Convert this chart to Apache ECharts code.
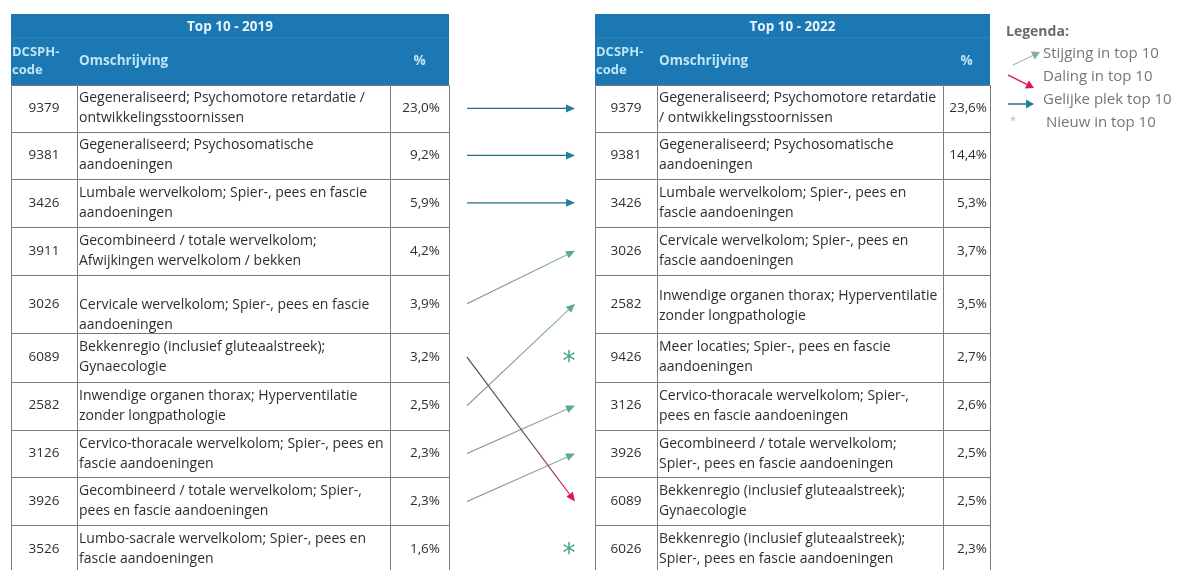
<!DOCTYPE html>
<html><head><meta charset="utf-8">
<script src="https://cdn.jsdelivr.net/npm/echarts@6/dist/echarts.min.js"></script>
<style>html,body{margin:0;padding:0;background:#fff}#c{width:1179px;height:570px}</style>
</head><body><div id="c"></div>
<script>
// ---------------- DATA ----------------
const titles = ['Top 10 - 2019', 'Top 10 - 2022'];
const headerLabels = ['DCSPH-\ncode', 'Omschrijving', '%'];
const codes2019 = ['9379', '9381', '3426', '3911', '3026', '6089', '2582', '3126', '3926', '3526'];
const desc2019 = [
  'Gegeneraliseerd; Psychomotore retardatie /\nontwikkelingsstoornissen',
  'Gegeneraliseerd; Psychosomatische\naandoeningen',
  'Lumbale wervelkolom; Spier-, pees en fascie\naandoeningen',
  'Gecombineerd / totale wervelkolom;\nAfwijkingen wervelkolom / bekken',
  'Cervicale wervelkolom; Spier-, pees en fascie\naandoeningen',
  'Bekkenregio (inclusief gluteaalstreek);\nGynaecologie',
  'Inwendige organen thorax; Hyperventilatie\nzonder longpathologie',
  'Cervico-thoracale wervelkolom; Spier-, pees en\nfascie aandoeningen',
  'Gecombineerd / totale wervelkolom; Spier-,\npees en fascie aandoeningen',
  'Lumbo-sacrale wervelkolom; Spier-, pees en\nfascie aandoeningen'
];
const pct2019 = [23.0, 9.2, 5.9, 4.2, 3.9, 3.2, 2.5, 2.3, 2.3, 1.6];
const codes2022 = ['9379', '9381', '3426', '3026', '2582', '9426', '3126', '3926', '6089', '6026'];
const desc2022 = [
  'Gegeneraliseerd; Psychomotore retardatie\n/ ontwikkelingsstoornissen',
  'Gegeneraliseerd; Psychosomatische\naandoeningen',
  'Lumbale wervelkolom; Spier-, pees en\nfascie aandoeningen',
  'Cervicale wervelkolom; Spier-, pees en\nfascie aandoeningen',
  'Inwendige organen thorax; Hyperventilatie\nzonder longpathologie',
  'Meer locaties; Spier-, pees en fascie\naandoeningen',
  'Cervico-thoracale wervelkolom; Spier-,\npees en fascie aandoeningen',
  'Gecombineerd / totale wervelkolom;\nSpier-, pees en fascie aandoeningen',
  'Bekkenregio (inclusief gluteaalstreek);\nGynaecologie',
  'Bekkenregio (inclusief gluteaalstreek);\nSpier-, pees en fascie aandoeningen'
];
const pct2022 = [23.6, 14.4, 5.3, 3.7, 3.5, 2.7, 2.6, 2.5, 2.5, 2.3];
const legendTitle = 'Legenda:';
const legendLabels = ['Stijging in top 10', 'Daling in top 10', 'Gelijke plek top 10', 'Nieuw in top 10'];

// ---------------- LAYOUT ----------------
const ROW_H = [0.98, 0.98, 1, 1, 1.21, 1.02, 1, 1, 1, 1];
const rowTop = [0];
ROW_H.forEach((h, i) => rowTop.push(rowTop[i] + h));
const rowMid = i => rowTop[i] + ROW_H[i] / 2;
const HEAD_TOP = -1.48, HEAD_MID = -0.98;
const TABLES = [
  { cols: [11, 77, 390, 449], pctPad: 9, descShift: { 4: 11 } },
  { cols: [595, 657, 943, 990], pctPad: 3, descShift: { 4: 2 } }
];
const ARROW_X = [467, 575];
const FONT = '"Open Sans", Lato, sans-serif';
const TXT = '#2e2e2e';
const BORDER = '#7a7a7a';
const BLUE = '#1b78b3';
const fmtPct = v => v.toFixed(1).replace('.', ',') + '%';

const tablesData = [
  { codes: codes2019, desc: desc2019, pct: pct2019 },
  { codes: codes2022, desc: desc2022, pct: pct2022 }
];

function bodyRender(t) {
  const T = TABLES[t], D = tablesData[t];
  return function (params, api) {
    const i = api.value(0);
    const y0 = api.coord([0, rowTop[i]])[1];
    const y1 = api.coord([0, rowTop[i + 1]])[1];
    const xs = T.cols.map(c => api.coord([c, 0])[0]);
    const ym = (y0 + y1) / 2;
    const children = [];
    for (let k = 0; k < 3; k++) {
      children.push({
        type: 'rect',
        shape: { x: Math.round(xs[k]) + 0.5, y: Math.round(y0) + 0.5, width: Math.round(xs[k + 1] - xs[k]), height: Math.round(y1 - y0) },
        style: { fill: '#ffffff', stroke: BORDER, lineWidth: 1 }
      });
    }
    children.push({ type: 'text', style: { text: D.codes[i], x: (xs[0] + xs[1]) / 2, y: ym, align: 'center', verticalAlign: 'middle', font: '13.5px ' + FONT, fill: TXT } });
    children.push({ type: 'text', style: { text: D.desc[i], x: xs[1] + 2, y: ym + (T.descShift[i] || 0), align: 'left', verticalAlign: 'middle', font: '14px ' + FONT, lineHeight: 20, fill: TXT } });
    children.push({ type: 'text', style: { text: fmtPct(D.pct[i]), x: xs[3] - T.pctPad, y: ym, align: 'right', verticalAlign: 'middle', font: '13.5px ' + FONT, fill: TXT } });
    return { type: 'group', children };
  };
}

function headerRender(t) {
  const T = TABLES[t];
  return function (params, api) {
    const yA = api.coord([0, HEAD_TOP])[1];
    const yB = api.coord([0, HEAD_MID])[1];
    const yC = api.coord([0, 0])[1];
    const xs = T.cols.map(c => api.coord([c, 0])[0]);
    const lab = '#bfe4f5';
    return {
      type: 'group', children: [
        { type: 'rect', shape: { x: xs[0], y: yA, width: xs[3] - xs[0], height: yC - yA }, style: { fill: BLUE } },
        { type: 'line', shape: { x1: xs[0], y1: yB, x2: xs[3], y2: yB }, style: { stroke: '#2a86bd', lineWidth: 1 } },
        { type: 'text', style: { text: titles[t], x: (xs[0] + xs[3]) / 2, y: (yA + yB) / 2 + 1, align: 'center', verticalAlign: 'middle', font: 'bold 13.5px ' + FONT, fill: '#e6f4fb' } },
        { type: 'text', style: { text: headerLabels[0], x: xs[0] + 1, y: (yB + yC) / 2, align: 'left', verticalAlign: 'middle', font: 'bold 13px ' + FONT, lineHeight: 18, fill: lab } },
        { type: 'text', style: { text: headerLabels[1], x: xs[1] + 2, y: (yB + yC) / 2, align: 'left', verticalAlign: 'middle', font: 'bold 13.5px ' + FONT, fill: lab } },
        { type: 'text', style: { text: headerLabels[2], x: (xs[2] + xs[3]) / 2, y: (yB + yC) / 2, align: 'center', verticalAlign: 'middle', font: 'bold 13.5px ' + FONT, fill: lab } }
      ]
    };
  };
}

// movement data derived from the two rankings
const moves = codes2022.map((c, i22) => {
  const i19 = codes2019.indexOf(c);
  let type = 'new';
  if (i19 >= 0) type = i19 === i22 ? 'same' : (i19 > i22 ? 'rise' : 'fall');
  return [i19, i22, type];
});

const STY = {
  same: { a: '#2c6b80', m: '#2c6b80', b: '#2c6b80', head: '#1a8594' },
  rise: { a: '#8a8a8a', m: '#8f9a96', b: '#86b9a4', head: '#5dab90' },
  fall: { a: '#4d4d4d', m: '#555555', b: '#d11a4c', head: '#e0154d' }
};
const LEGEND_STY = {
  same: STY.same,
  rise: { a: '#9a9a9a', m: '#9aa8a2', b: '#8cbba8', head: '#7fb09c' },
  fall: { a: '#d8365f', m: '#dc2a57', b: '#e0154d', head: '#e0154d' }
};

function arrowShape(p1, p2, s, L, W, lw) {
  const dx = p2[0] - p1[0], dy = p2[1] - p1[1];
  const len = Math.hypot(dx, dy), ux = dx / len, uy = dy / len;
  const bx = p2[0] - L * ux, by = p2[1] - L * uy;
  const grad = new echarts.graphic.LinearGradient(0, 0, 1, 0, [{ offset: 0, color: s.a }, { offset: 0.6, color: s.m }, { offset: 1, color: s.b }]);
  return [
    { type: 'line', shape: { x1: p1[0], y1: p1[1], x2: bx, y2: by }, style: { stroke: s.a === s.b ? s.a : grad, lineWidth: lw } },
    { type: 'polygon', shape: { points: [p2, [bx - W * uy, by + W * ux], [bx + W * uy, by - W * ux]] }, style: { fill: s.head } }
  ];
}

function arrowRender(params, api) {
  const m = moves[params.dataIndex];
  const i19 = m[0], i22 = m[1], type = m[2];
  const p2 = api.coord([ARROW_X[1], rowMid(i22)]);
  if (type === 'new') {
    return { type: 'text', style: { text: '*', x: p2[0] - 6, y: p2[1] + 6, align: 'center', verticalAlign: 'middle', font: '26px "DejaVu Sans", sans-serif', fill: '#3fa58b' } };
  }
  const p1 = api.coord([ARROW_X[0], rowMid(i19)]);
  return { type: 'group', children: arrowShape(p1, p2, STY[type], 9, 4, 1.2) };
}

// legend (fixed layout)
const legendGraphics = [
  { type: 'text', left: 1006, top: 25, style: { text: legendTitle, font: 'bold 14px ' + FONT, fill: '#6a6a6a' } }
];
const legendTypes = ['rise', 'fall', 'same', 'new'];
const legendIcon = {
  rise: [[1013, 65], [1040, 52]],
  fall: [[1008, 75], [1034, 88]],
  same: [[1008, 104], [1034, 104]]
};
legendLabels.forEach((lab, k) => {
  const t = legendTypes[k];
  const y = 57 + k * 23;
  legendGraphics.push({ type: 'text', left: t === 'new' ? 1046 : 1043, top: y - 11, style: { text: lab, font: '15px ' + FONT, fill: '#767676' } });
  if (t === 'new') {
    legendGraphics.push({ type: 'text', left: 1010, top: y - 11, style: { text: '*', font: '11px ' + FONT, fill: '#9cc7b6' } });
  } else {
    const [p1, p2] = legendIcon[t];
    legendGraphics.push({ type: 'group', children: arrowShape(p1, p2, LEGEND_STY[t], 8, 4.5, t === 'rise' ? 1 : 1.5) });
  }
});

const chart = echarts.init(document.getElementById('c'), null, { renderer: 'canvas' });
chart.setOption({
  animation: false,
  backgroundColor: '#ffffff',
  grid: { left: 0, right: 0, top: 14, bottom: 0 },
  xAxis: { type: 'value', min: 0, max: 1179, show: false },
  yAxis: { type: 'value', min: HEAD_TOP, max: 10.12, inverse: true, show: false },
  graphic: legendGraphics,
  series: [
    { type: 'custom', renderItem: bodyRender(0), data: codes2019.map((c, i) => [i]), encode: { x: -1, y: 0 } },
    { type: 'custom', renderItem: bodyRender(1), data: codes2022.map((c, i) => [i]), encode: { x: -1, y: 0 } },
    { type: 'custom', renderItem: headerRender(0), data: [[0]] },
    { type: 'custom', renderItem: headerRender(1), data: [[0]] },
    { type: 'custom', renderItem: arrowRender, data: moves.map(m => [m[0], m[1]]), z: 5 }
  ]
});
</script>
</body></html>
